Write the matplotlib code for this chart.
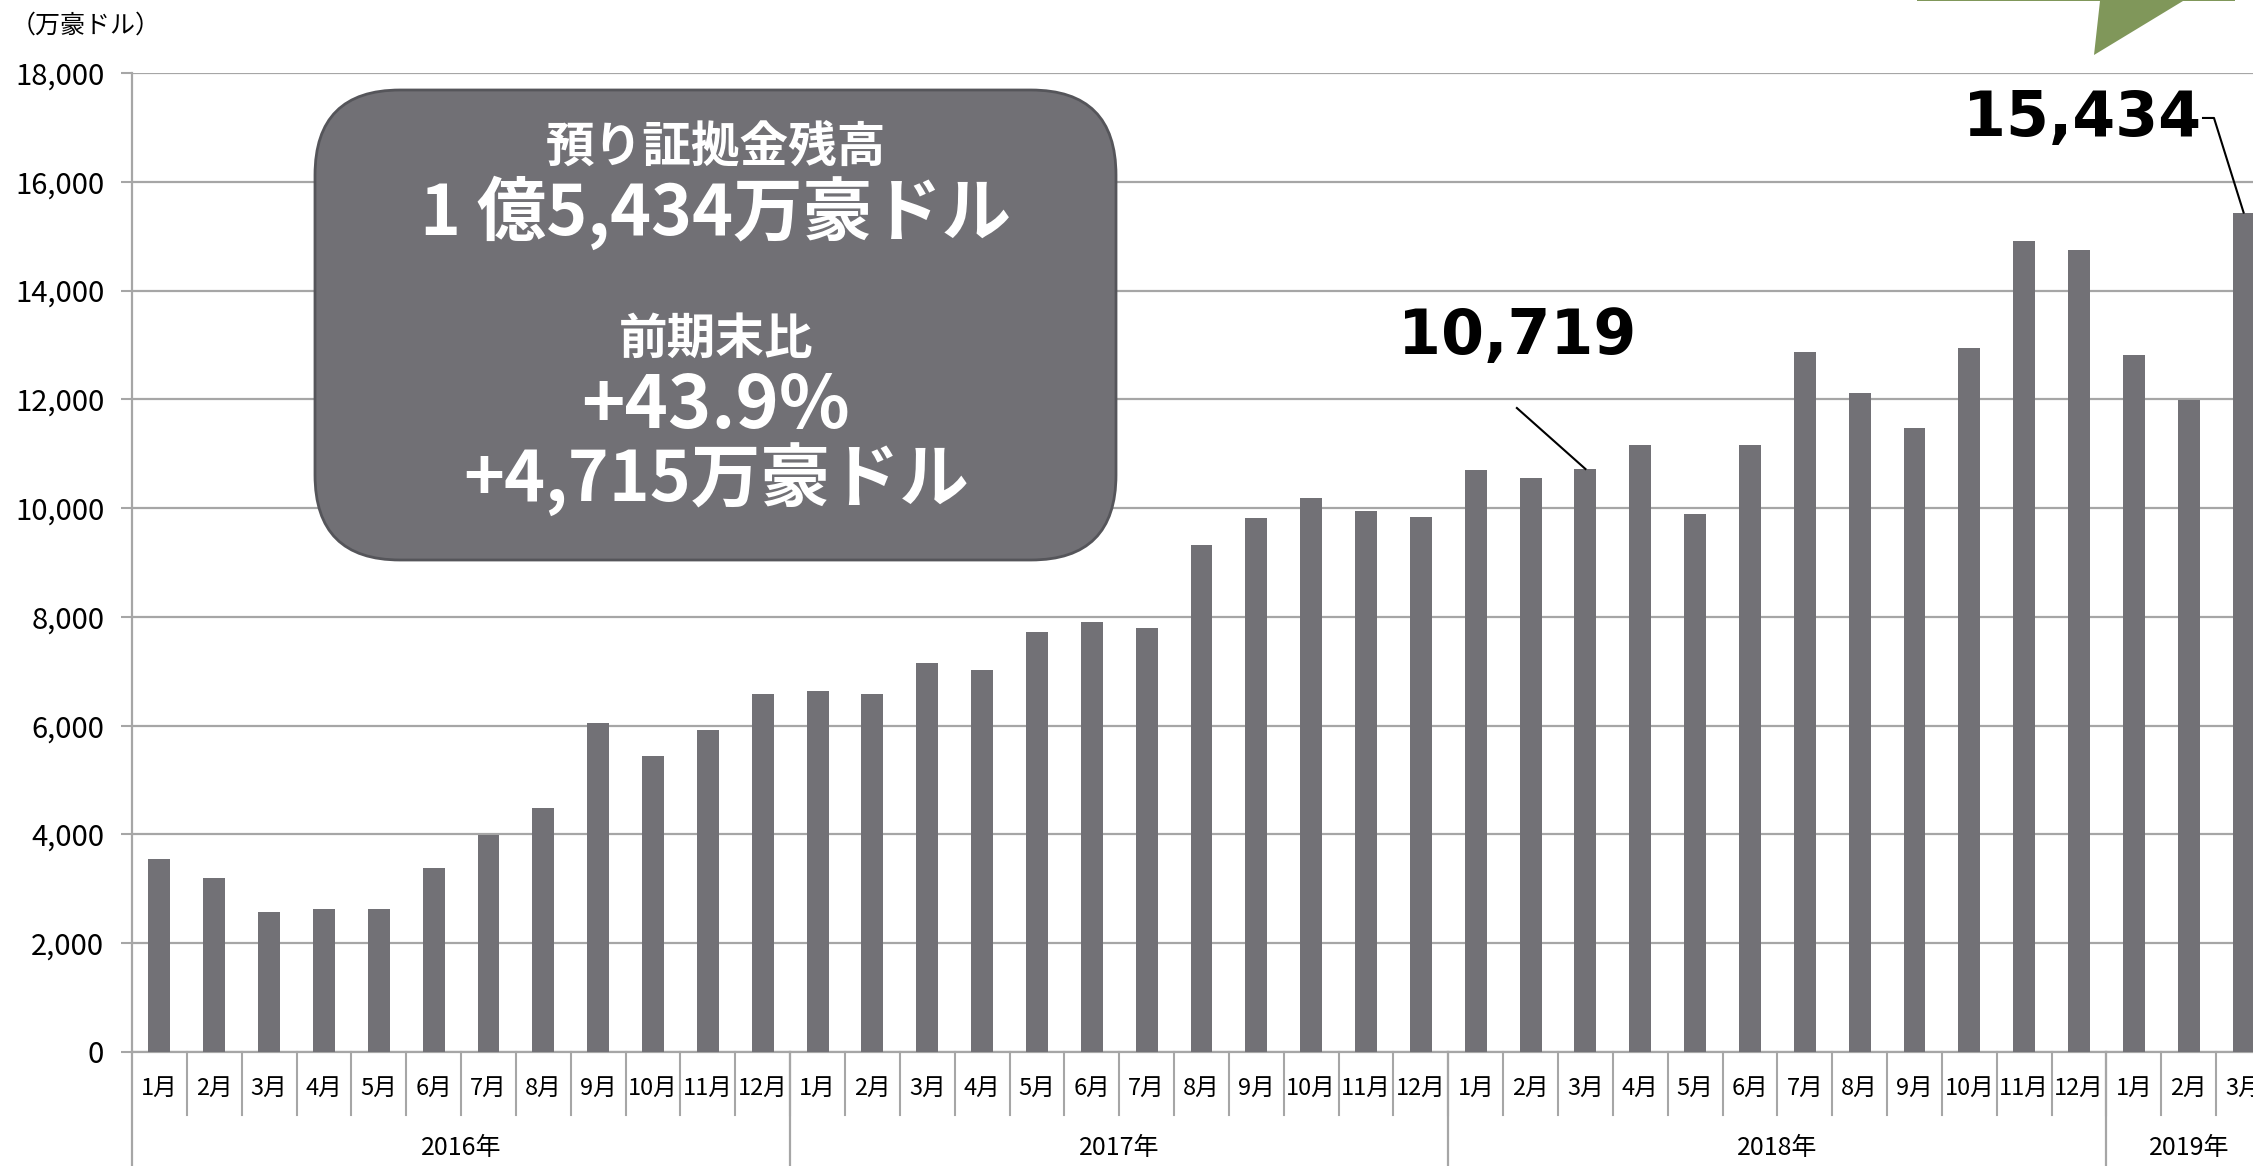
import numpy as np
import matplotlib
matplotlib.use("Agg")
import matplotlib.pyplot as plt
from matplotlib.patches import FancyBboxPatch, Polygon
from matplotlib.transforms import IdentityTransform, blended_transform_factory

# ============================================================
# Data
# ============================================================

years = ["2016年", "2017年", "2018年", "2019年"]
months_per_year = [12, 12, 12, 3]
month_labels = [f"{m}月" for n in months_per_year for m in range(1, n + 1)]

balance = [
    3550, 3200, 2570, 2620, 2620, 3380, 3990, 4490, 6050, 5450, 5920, 6580,
    6630, 6580, 7160, 7030, 7720, 7900, 7800, 9330, 9810, 10180, 9940, 9830,
    10700, 10550, 10719, 11160, 9890, 11160, 12870, 12110, 11470, 12950, 14910, 14750,
    12820, 11990, 15434,
]

unit_label = "（万豪ドル）"
box_lines = ["預り証拠金残高", "1 億5,434万豪ドル", "前期末比", "+43.9%", "+4,715万豪ドル"]

BAR_COLOR = "#727176"
GRID_COLOR = "#a6a6a6"
JP = ["Noto Sans CJK JP", "DejaVu Sans"]

plt.rcParams["font.family"] = JP

# ============================================================
# Figure
# ============================================================

W, H = 2253, 1166
fig = plt.figure(figsize=(W / 100, H / 100), dpi=100)
ax = fig.add_axes([0.0586, 0.0978, 0.9494, 0.8396])

x = np.arange(len(balance))
ax.bar(x, balance, width=0.4, color=BAR_COLOR, zorder=3)

ax.set_xlim(-0.5, len(balance) - 0.5)
ax.set_ylim(0, 18000)
ax.set_yticks(np.arange(0, 18001, 2000))
ax.set_yticklabels([f"{v:,}" for v in range(0, 18001, 2000)], fontsize=21)
ax.yaxis.grid(True, color=GRID_COLOR, lw=1.6, zorder=0)
ax.tick_params(axis="y", length=8, width=1.5, color=GRID_COLOR, pad=12)
ax.set_xticks([])

for s in ["top", "right"]:
    ax.spines[s].set_visible(False)
for s in ["left", "bottom"]:
    ax.spines[s].set_color(GRID_COLOR)
    ax.spines[s].set_linewidth(1.6)

# two-level category axis
trans = blended_transform_factory(ax.transData, ax.transAxes)
for i, lab in enumerate(month_labels):
    ax.text(i, -0.037, lab, transform=trans, ha="center", va="center", fontsize=17)
    if i > 0:
        ax.plot([i - 0.5, i - 0.5], [0, -0.064], transform=trans, color=GRID_COLOR,
                lw=1.5, clip_on=False)

start = 0
for yr, n in zip(years, months_per_year):
    ax.plot([start - 0.5, start - 0.5], [0, -0.2], transform=trans, color=GRID_COLOR,
            lw=1.6, clip_on=False)
    ax.text(start + (n - 1) / 2, -0.098, yr, transform=trans, ha="center", va="center",
            fontsize=18)
    start += n

fig.text(11 / W, 1 - 26 / H, unit_label, ha="left", va="center", fontsize=18)

# summary box
box = FancyBboxPatch((315, H - 560), 801, 470, boxstyle="round,pad=0,rounding_size=85",
                     transform=IdentityTransform(), facecolor="#717075",
                     edgecolor="#55555a", lw=2, zorder=5)
fig.patches.append(box)
box_y = [147, 213, 339, 407, 480]
box_sizes = [35, 50, 35, 53, 50]
for txt, yy, fs in zip(box_lines, box_y, box_sizes):
    fig.text(716 / W, 1 - yy / H, txt, ha="center", va="center", fontsize=fs,
             fontweight="bold", color="white", zorder=6)

# value callouts
ax.text(24.75, 13150, f"{balance[26]:,}", ha="center", va="center", fontsize=44.5,
        fontweight="bold", family="DejaVu Sans", zorder=6)
ax.plot([24.75, 26.0], [11840, balance[26]], color="black", lw=1.5, zorder=6)
ax.text(35.05, 17150, f"{balance[38]:,}", ha="center", va="center", fontsize=44.5,
        fontweight="bold", family="DejaVu Sans", zorder=6)
ax.plot([37.26, 37.46, 38.0], [17173, 17173, balance[38]], color="black", lw=1.5,
        zorder=6, clip_on=False)

# green arrow shape at top right (partly outside)
arrow = Polygon([(1917, H + 10), (1917, H - 1), (2100, H - 1), (2094, H - 55),
                 (2183, H - 1), (2235, H - 1), (2235, H + 10)], closed=True,
                transform=IdentityTransform(), facecolor="#80975a", edgecolor="none")
fig.patches.append(arrow)

fig.savefig("out.png", dpi=100)
